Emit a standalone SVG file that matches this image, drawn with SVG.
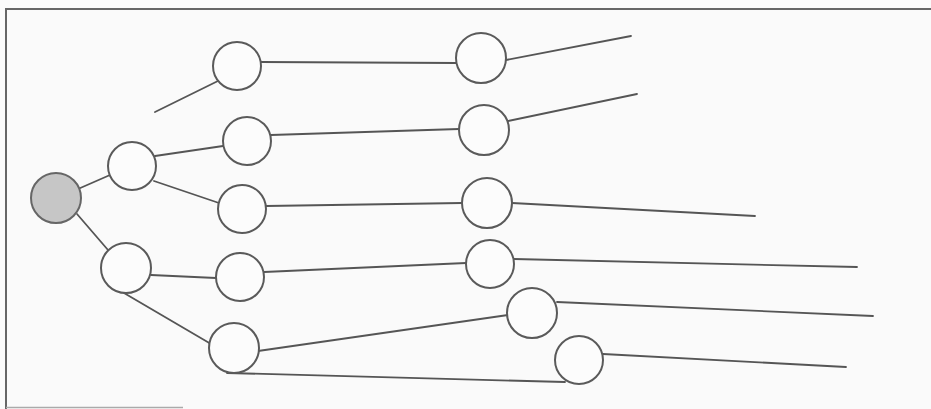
<svg xmlns="http://www.w3.org/2000/svg" width="931" height="409" viewBox="0 0 931 409">
<style>
.n circle{fill:#fcfcfc;stroke:#5a5a5a;stroke-width:2}
#root circle{fill:#c6c6c6;stroke:#666}
.e line{stroke:#555;stroke-width:1.8;stroke-linecap:round}
.f{stroke:#666;stroke-width:2}
</style>
<rect width="931" height="409" fill="#fafafa"/>
<g id="frame">
<line class="f" x1="6" y1="9" x2="931" y2="9"/>
<line class="f" x1="6" y1="8" x2="6" y2="409"/>
<line x1="6" y1="407.5" x2="183" y2="407.5" stroke="#aaa" stroke-width="1.5"/>
</g>
<g id="connectors" class="e">
<line x1="78" y1="189" x2="110" y2="175"/>
<line x1="77" y1="214" x2="108" y2="250"/>
<line x1="155" y1="156" x2="223" y2="146"/>
<line x1="154" y1="181" x2="219" y2="203"/>
<line x1="155" y1="112" x2="222" y2="79"/>
<line x1="151" y1="275" x2="216" y2="278"/>
<line x1="124" y1="293" x2="211" y2="344"/>
<line x1="261" y1="62" x2="457" y2="63"/>
<line x1="271" y1="135" x2="459" y2="129"/>
<line x1="266" y1="206" x2="462" y2="203"/>
<line x1="264" y1="272" x2="466" y2="263"/>
<line x1="258" y1="351" x2="508" y2="315"/>
<line x1="227" y1="373" x2="565" y2="382"/>
<line x1="506" y1="60" x2="631" y2="36"/>
<line x1="508" y1="121" x2="637" y2="94"/>
<line x1="512" y1="203" x2="755" y2="216"/>
<line x1="514" y1="259" x2="857" y2="267"/>
<line x1="557" y1="302" x2="873" y2="316"/>
<line x1="603" y1="354" x2="846" y2="367"/>
</g>
<g id="root" class="n"><circle cx="56" cy="198" r="25"/></g>
<g id="a1" class="n"><circle cx="132" cy="166" r="24"/></g>
<g id="a2" class="n"><circle cx="126" cy="268" r="25"/></g>
<g id="b0" class="n"><circle cx="237" cy="66" r="24"/></g>
<g id="b1" class="n"><circle cx="247" cy="141" r="24"/></g>
<g id="b2" class="n"><circle cx="242" cy="209" r="24"/></g>
<g id="b3" class="n"><circle cx="240" cy="277" r="24"/></g>
<g id="b4" class="n"><circle cx="234" cy="348" r="25"/></g>
<g id="c0" class="n"><circle cx="481" cy="58" r="25"/></g>
<g id="c1" class="n"><circle cx="484" cy="130" r="25"/></g>
<g id="c2" class="n"><circle cx="487" cy="203" r="25"/></g>
<g id="c3" class="n"><circle cx="490" cy="264" r="24"/></g>
<g id="c4" class="n"><circle cx="532" cy="313" r="25"/></g>
<g id="c5" class="n"><circle cx="579" cy="360" r="24"/></g>
</svg>
